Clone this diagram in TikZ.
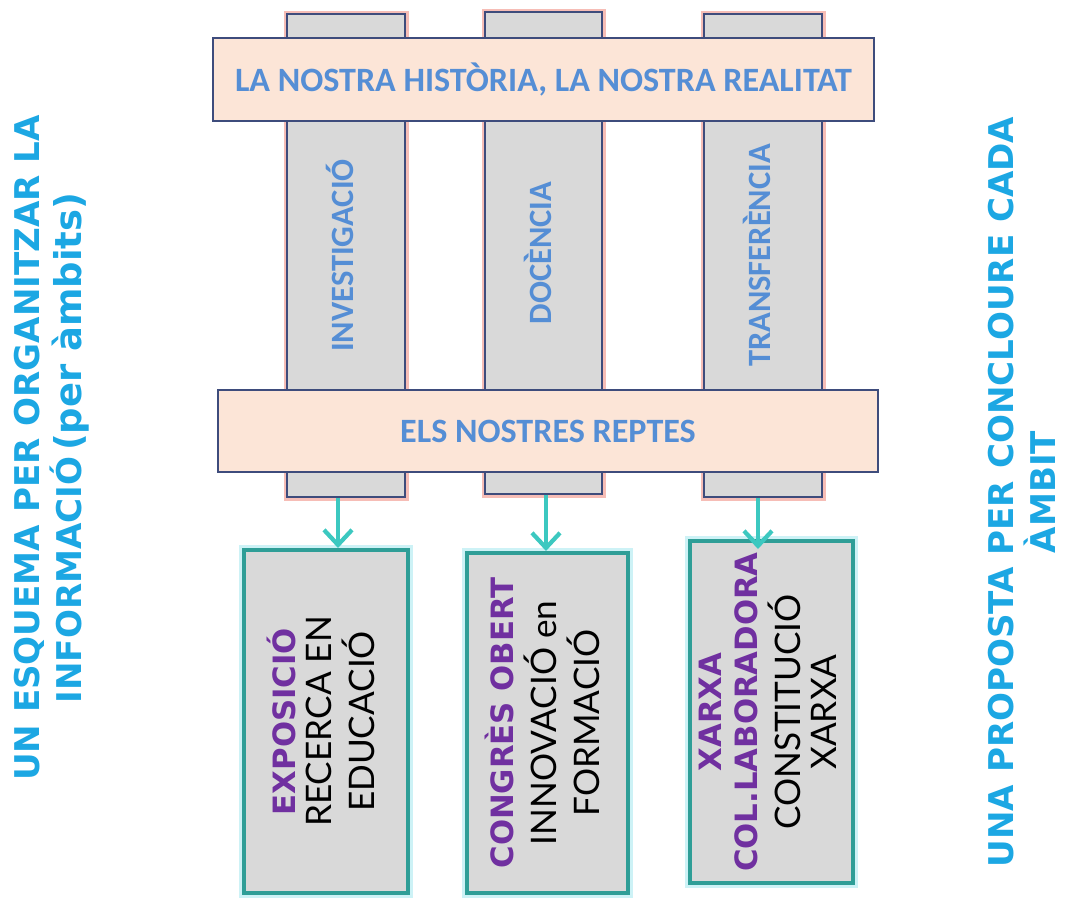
\documentclass[tikz,border=0pt]{standalone}
\usepackage{fontspec}
\usepackage{graphicx}
\usetikzlibrary{arrows.meta}

\setmainfont{Carlito}
\newfontfamily\sidefont{DejaVu Sans}
\newfontfamily\boxfont{Lato}

\definecolor{bandfill}{HTML}{FCE5D7}
\definecolor{navyline}{HTML}{3E4C7C}
\definecolor{pillarfill}{HTML}{D9D9D9}
\definecolor{pinkglow}{HTML}{F6BDB6}
\definecolor{titleblue}{HTML}{558ED5}
\definecolor{tealarrow}{HTML}{3CC8C0}
\definecolor{tealline}{HTML}{2F9E97}
\definecolor{cyanglow}{HTML}{CDF2F6}
\definecolor{actpurple}{HTML}{7030A0}
\definecolor{sidecyan}{HTML}{1CA7E3}

\newcommand{\uptext}[1]{\rotatebox{90}{\begin{tabular}{@{}c@{}}#1\end{tabular}}}
\newcommand{\acttitle}[1]{{\sidefont\bfseries\fontsize{17.5}{20}\selectfont\color{actpurple}#1}}

\begin{document}
\begin{tikzpicture}[x=0.2mm, y=-0.2mm]
		\tikzstyle {pillar} = [draw=navyline, line width=0.4mm, fill=pillarfill, inner sep=0pt,
			preaction={draw=pinkglow, line width=1.4mm}, text=titleblue, font=\bfseries\fontsize{18.5}{22}\selectfont]
		\tikzstyle {band} = [draw=navyline, line width=0.55mm, fill=bandfill, inner sep=0pt,
			text=titleblue, font=\bfseries\fontsize{19.4}{22}\selectfont]
		\tikzstyle {result} = [draw=tealline, line width=0.8mm, fill=pillarfill, inner sep=0pt,
			preaction={draw=cyanglow, line width=2mm}, font=\boxfont\fontsize{20}{20.5}\selectfont]
		\tikzstyle {link} = [draw=tealarrow, line width=0.85mm, -{Straight Barb[length=3mm, width=5.6mm, line width=0.85mm]}]
		\tikzstyle {side} = [inner sep=0pt, text=sidecyan, font=\sidefont\bfseries\fontsize{19.4}{21}\selectfont]

		\useasboundingbox (0,0) rectangle (1066,897);

		% the three pillars
		\node[pillar, minimum width=23.6mm, minimum height=96.6mm] (inv) at (346,255.5) {\uptext{INVESTIGACIÓ}};
		\node[pillar, minimum width=23.4mm, minimum height=96.4mm] (doc) at (543.5,253) {\uptext{DOCÈNCIA}};
		\node[pillar, minimum width=23.6mm, minimum height=96.6mm] (tra) at (763,255.5) {\uptext{TRANSFERÈNCIA}};

		% bands across the pillars
		\node[band, minimum width=132.2mm, minimum height=16.6mm] (hist) at (543.5,79.5) {LA NOSTRA HISTÒRIA, LA NOSTRA REALITAT};
		\node[band, minimum width=132mm, minimum height=16.4mm] (reptes) at (548,431) {ELS NOSTRES REPTES};

		% one proposal for each pillar
		\node[result, minimum width=32.8mm, minimum height=68.6mm] (expo) at (326,721.5)
			{\uptext{\acttitle{EXPOSICIÓ}\\RECERCA EN\\EDUCACIÓ}};
		\node[result, minimum width=32.2mm, minimum height=68mm] (congres) at (547.5,723)
			{\uptext{\acttitle{CONGRÈS OBERT}\\INNOVACIÓ en\\FORMACIÓ}};
		\node[result, minimum width=32.6mm, minimum height=68.4mm] (xarxa) at (771.5,712)
			{\uptext{\acttitle{XARXA}\\\acttitle{COL.LABORADORA}\\CONSTITUCIÓ\\XARXA}};

		\draw[link] ([xshift=-1.6mm]inv.south) -- ([xshift=-1.6mm]inv.south |- expo.north);
		\draw[link] ([xshift=0.5mm]doc.south) -- ([xshift=0.5mm]doc.south |- congres.north);
		\draw[link] ([xshift=-1mm]tra.south) -- ([xshift=-1mm, yshift=-2mm]tra.south |- xarxa.north);

		% titles at both sides
		\node[side] (left) at (53,448) {\uptext{UN ESQUEMA PER ORGANITZAR LA\\INFORMACIÓ\,{\fontsize{21}{21}\selectfont(per àmbits)}}};
		\node[side] (right) at (1027,492) {\uptext{UNA PROPOSTA PER CONCLOURE CADA\\ÀMBIT}};
\end{tikzpicture}
\end{document}
